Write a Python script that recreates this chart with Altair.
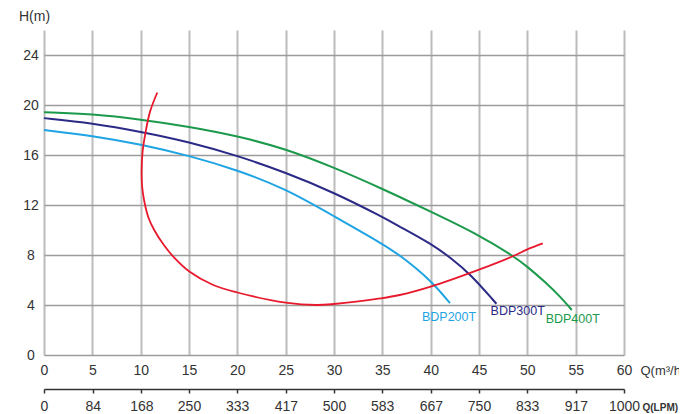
import altair as alt
import pandas as pd

# ---- data ----
q200 = [0, 5, 10, 15, 20, 25, 30, 35, 36.8, 40, 42]
h200 = [18.0, 17.55, 16.85, 15.95, 14.8, 13.3, 11.1, 8.9, 8.0, 6.0, 4.15]

q300 = [0, 5, 10, 15, 20, 25, 30, 35, 36.8, 40, 42.2, 44.07, 46.8]
h300 = [18.95, 18.55, 17.87, 17.05, 15.95, 14.6, 13.0, 11.05, 10.27, 8.93, 7.7, 6.5, 4.1]

q400 = [0, 5, 10, 15, 20, 25, 30, 35, 40, 45, 48.55, 50, 52, 53.4, 54.6]
h400 = [19.42, 19.28, 18.85, 18.27, 17.52, 16.5, 15.0, 13.3, 11.47, 9.6, 7.92, 7.07, 5.73, 4.67, 3.6]

q_sys = [11.72, 10.97, 10.52, 10.2, 10.1, 10.15, 10.35, 10.8, 11.4, 12.4, 13.4, 15.0,
         17.5, 20, 25, 28.2, 30, 34.8, 36.8, 40, 45, 48.55, 50, 51.6]
h_sys = [21.0, 19.47, 17.87, 16.27, 14.67, 13.5, 12.4, 11.0, 10.0, 8.8, 7.85, 6.7,
         5.6, 5.0, 4.19, 4.0, 4.08, 4.53, 4.8, 5.47, 6.83, 7.92, 8.45, 8.93]

models = ["BDP200T", "BDP300T", "BDP400T"]
colors = ["#1fa4e3", "#2b2a86", "#1c9a4b"]
label_q = [41.9, 49.0, 54.7]
label_h = [3.06, 3.54, 2.86]

x_ticks = [0, 5, 10, 15, 20, 25, 30, 35, 40, 45, 50, 55, 60]
y_ticks = list(range(0, 27, 2))
lpm_ticks = [0, 84, 168, 250, 333, 417, 500, 583, 667, 750, 833, 917, 1000]

FONT = "Liberation Sans"
FS = 14

rows = []
for m, qs, hs in zip(models, [q200, q300, q400], [h200, h300, h400]):
    for i, (q, h) in enumerate(zip(qs, hs)):
        rows.append({"model": m, "q": q, "h": h, "i": i})
pump_df = pd.DataFrame(rows)
sys_df = pd.DataFrame({"q": q_sys, "h": h_sys, "i": list(range(len(q_sys)))})
lab_df = pd.DataFrame({"model": models, "q": label_q, "h": label_h})
lpm_df = pd.DataFrame({"lpm": lpm_ticks})

xscale = alt.Scale(domain=[0, 60], nice=False, zero=True)
yscale = alt.Scale(domain=[0, 26], nice=False, zero=True)
cscale = alt.Scale(domain=models, range=colors)

xaxis = alt.Axis(values=x_ticks, orient="bottom", grid=True, gridColor="#bcbcbc", gridWidth=2,
                 domain=False, ticks=False, labelPadding=8, labelFontSize=FS,
                 labelColor="#333333", labelFont=FONT, title="Q(m³/h)",
                 titleX=596, titleY=15, titleAlign="left", titleBaseline="middle",
                 titleFontSize=13, titleFontWeight="normal", titleColor="#333333",
                 titleFont=FONT, labelFlush=False)
yaxis = alt.Axis(values=y_ticks, grid=True, gridColor="#9c9c9c", gridWidth=1.5,
                 domain=False, ticks=False, labelPadding=13.5, labelAlign="center",
                 labelFontSize=FS, labelColor="#333333", labelFont=FONT,
                 labelExpr="datum.value % 4 == 0 ? datum.label : ''",
                 title="H(m)", titleAngle=0, titleX=-10, titleY=-14,
                 titleAlign="center", titleBaseline="middle", titleFontSize=FS,
                 titleFontWeight="normal", titleColor="#333333", titleFont=FONT,
                 labelFlush=False)

pumps = alt.Chart(pump_df).mark_line(strokeWidth=2, interpolate="basis").encode(
    x=alt.X("q:Q", scale=xscale, axis=xaxis),
    y=alt.Y("h:Q", scale=yscale, axis=yaxis),
    color=alt.Color("model:N", scale=cscale, legend=None),
    order="i:Q",
)

system = alt.Chart(sys_df).mark_line(strokeWidth=1.8, color="#e8192c",
                                     interpolate="catmull-rom").encode(
    x=alt.X("q:Q", scale=xscale),
    y=alt.Y("h:Q", scale=yscale),
    order="i:Q",
)

labels = alt.Chart(lab_df).mark_text(fontSize=12.5, font=FONT, align="center",
                                     baseline="middle").encode(
    x=alt.X("q:Q", scale=xscale),
    y=alt.Y("h:Q", scale=yscale),
    text="model:N",
    color=alt.Color("model:N", scale=cscale, legend=None),
)

main = alt.layer(pumps, system, labels)

lpm_axis = alt.Axis(values=lpm_ticks, orient="bottom", offset=34, grid=False,
                    domain=True, domainColor="#333333", domainWidth=1.5,
                    ticks=True, tickColor="#333333", tickWidth=1.5, tickSize=4,
                    labelPadding=6, labelFontSize=FS, labelColor="#333333",
                    labelFont=FONT, labelFlush=False, format="d", title="Q(LPM)",
                    titleX=598, titleY=18, titleAlign="left", titleBaseline="middle",
                    titleFontSize=10, titleFontWeight="bold", titleColor="#333333",
                    titleFont=FONT)

lpm = alt.Chart(lpm_df).mark_point(opacity=0).encode(
    x=alt.X("lpm:Q", scale=alt.Scale(domain=[0, 1000], nice=False), axis=lpm_axis),
    y=alt.value(0),
)

chart = alt.layer(main, lpm).resolve_scale(x="independent").properties(
    width=580, height=325,
    padding={"left": 36, "top": 22, "right": 55, "bottom": 58},
    autosize=alt.AutoSizeParams(type="none"),
    background="white",
).configure_view(stroke=None)

chart.save("out.html", embed_options={"renderer": "svg", "actions": False})
